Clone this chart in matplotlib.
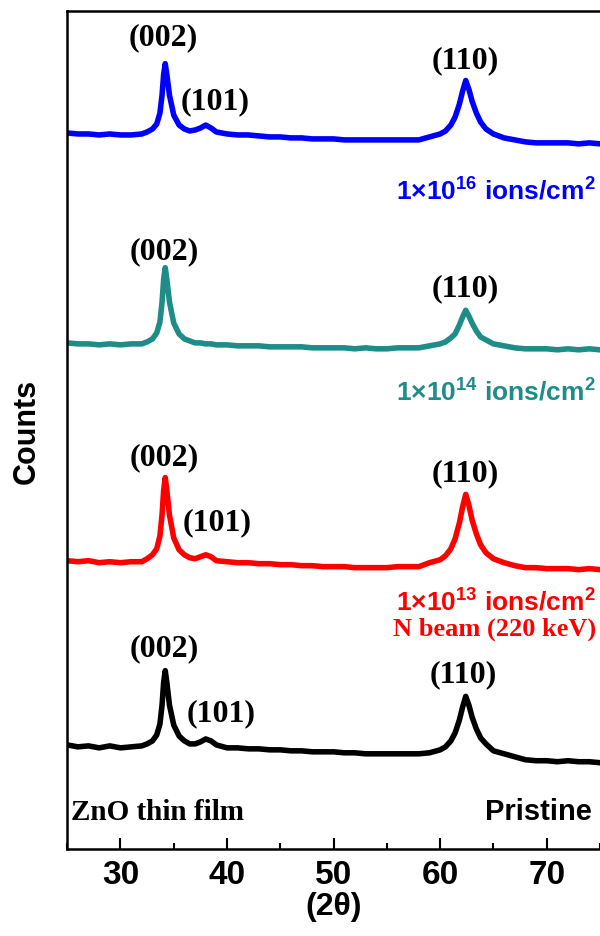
import matplotlib
matplotlib.use("Agg")
import matplotlib.pyplot as plt
from matplotlib.ticker import MultipleLocator

plt.rcParams['mathtext.fontset'] = 'custom'
plt.rcParams['mathtext.bf'] = 'Liberation Sans:bold'
plt.rcParams['mathtext.rm'] = 'Liberation Sans:bold'

# 2theta grid (deg), denser around the peaks
two_theta = [25, 26, 27, 28, 29, 30, 31, 32, 32.5, 33, 33.4, 33.7, 33.9, 34.05, 34.2,
             34.35, 34.6, 35.0, 35.5, 36, 36.5, 37, 37.5, 38, 38.5, 39, 40, 41, 42, 43,
             44, 45, 46, 47, 48, 49, 50, 51, 52, 53, 54, 55, 56, 57, 58, 59, 60, 60.5,
             61, 61.4, 61.8, 62.1, 62.4, 62.7, 63.0, 63.4, 63.8, 64.3, 65, 66, 67, 68,
             69, 70, 71, 72, 73, 74, 75]

# stacked counts (arb. units, already offset)
pristine = [105, 103, 104, 102, 104, 102, 103, 104, 106, 109, 115, 126, 145, 168, 180,
            168, 145, 125, 114, 109, 106, 106, 108, 111, 109, 105, 102, 102, 101, 101,
            100, 100, 99, 99, 98, 98, 98, 97, 97, 96, 96, 96, 96, 96, 96,
            97, 100, 103, 109, 117, 130, 143, 154, 145, 133, 121, 112, 106, 99, 96,
            93, 90, 89, 89, 88, 89, 88, 88, 87]
dose_1e13 = [291, 290, 291, 289, 290, 289, 290, 290, 293, 297, 303, 316, 337, 362, 375,
             362, 337, 314, 302, 297, 294, 293, 295, 297, 295, 291, 290, 289, 289, 288,
             288, 287, 287, 286, 286, 285, 285, 285, 284, 284, 284, 284, 285, 285, 285,
             289, 292, 296, 303, 313, 329, 345, 358, 347, 332, 318, 307, 299, 293, 289,
             286, 284, 284, 283, 283, 283, 282, 283, 282]
dose_1e14 = [511, 510, 510, 509, 510, 509, 510, 510, 512, 515, 521, 532, 552, 575, 587,
             575, 552, 531, 520, 515, 513, 511, 511, 510, 510, 509, 509, 508, 508, 508,
             507, 507, 507, 507, 506, 506, 506, 506, 505, 506, 505, 505, 506, 506, 506,
             508, 510, 512, 516, 520, 529, 537, 544, 538, 531, 523, 517, 514, 510, 508,
             506, 505, 505, 505, 504, 505, 504, 505, 504]
dose_1e16 = [723, 722, 722, 721, 722, 721, 721, 722, 724, 727, 732, 743, 761, 782, 793,
             782, 761, 741, 731, 727, 725, 726, 728, 731, 728, 724, 722, 721, 721, 720,
             719, 719, 718, 718, 717, 717, 717, 716, 716, 716, 716, 716, 716, 716, 716,
             719, 722, 725, 731, 739, 752, 765, 776, 767, 755, 743, 734, 727, 722, 718,
             716, 714, 713, 713, 713, 713, 712, 713, 712]

series = [pristine, dose_1e13, dose_1e14, dose_1e16]
colors = ['black', '#ff0000', '#1e8c87', '#0000ff']

fig = plt.figure(figsize=(6, 9.37), dpi=100)
ax = fig.add_axes([0.112, 0.093, 0.888, 0.894])

for y, c in zip(series, colors):
    ax.plot(two_theta, y, color=c, lw=4, solid_joinstyle='round')

ax.set_xlim(25, 75)
ax.set_ylim(0, 846)
ax.set_yticks([])
ax.xaxis.set_major_locator(MultipleLocator(10))
ax.xaxis.set_minor_locator(MultipleLocator(5))
ax.tick_params(axis='x', which='major', direction='in', length=8, width=1.5, pad=7,
               labelsize=24)
ax.tick_params(axis='x', which='minor', direction='in', length=4.5, width=1.5)
for lab in ax.get_xticklabels():
    lab.set_fontfamily('Liberation Sans')
    lab.set_fontweight('bold')
for s in ['left', 'top', 'bottom']:
    ax.spines[s].set_linewidth(1.8)
ax.spines['right'].set_visible(False)

ax.set_xlabel('(2θ)', fontsize=23, fontweight='bold', family='Liberation Sans', labelpad=1)
ax.set_ylabel('Counts', fontsize=22, fontweight='bold', family='Liberation Sans', labelpad=18)

pk = dict(fontsize=23, fontweight='bold', family='Liberation Serif', ha='center', va='center')
# peak labels
ax.text(34.0, 820, '(002)', **pk)
ax.text(38.9, 756, '(101)', **pk)
ax.text(62.4, 797, '(110)', **pk)
ax.text(34.1, 604, '(002)', **pk)
ax.text(62.4, 567, '(110)', **pk)
ax.text(34.1, 396, '(002)', **pk)
ax.text(39.1, 330, '(101)', **pk)
ax.text(62.4, 380, '(110)', **pk)
ax.text(34.1, 203, '(002)', **pk)
ax.text(39.4, 137, '(101)', **pk)
ax.text(62.2, 177, '(110)', **pk)

ds = dict(fontsize=19, fontweight='bold', family='Liberation Sans', ha='right', va='center')
ax.text(74.6, 666, r'1×10$^{\mathbf{16}}$ ions/cm$^{\mathbf{2}}$', color='#0000ff', **ds)
ax.text(74.6, 463, r'1×10$^{\mathbf{14}}$ ions/cm$^{\mathbf{2}}$', color='#1e8c87', **ds)
ax.text(74.6, 251, r'1×10$^{\mathbf{13}}$ ions/cm$^{\mathbf{2}}$', color='#ff0000', **ds)
ax.text(74.6, 223, 'N beam (220 keV)', color='#ff0000', fontsize=19, fontweight='bold',
        family='Liberation Serif', ha='right', va='center')

ax.text(25.4, 38, 'ZnO thin film', fontsize=21, fontweight='bold', family='Liberation Serif',
        ha='left', va='center')
ax.text(74.2, 38, 'Pristine', fontsize=21, fontweight='bold', family='Liberation Sans',
        ha='right', va='center')

fig.savefig('out.png', dpi=100)
